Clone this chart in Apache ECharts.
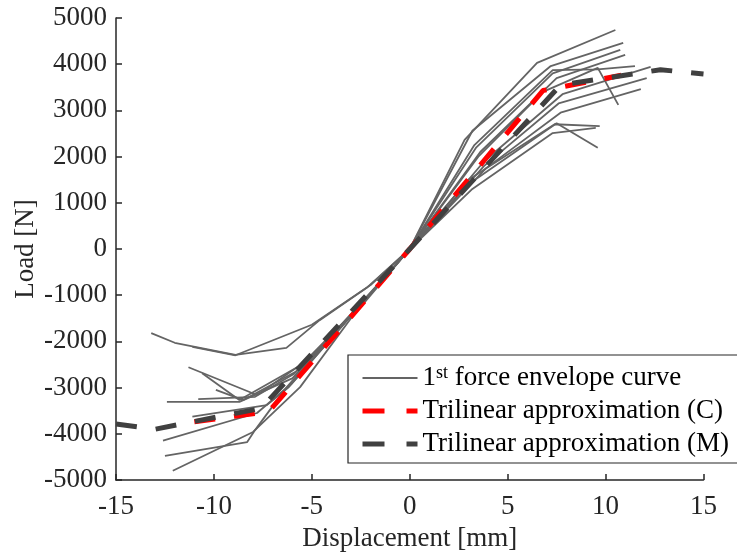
<!DOCTYPE html>
<html>
<head>
<meta charset="utf-8">
<script src="https://cdn.jsdelivr.net/npm/echarts@6/dist/echarts.min.js"></script>
<style>
  html, body { margin: 0; padding: 0; background: #fff; }
  #chart { width: 737px; height: 555px; }
</style>
</head>
<body>
<div id="chart"></div>
<script>
// 1st force envelope curves, positive side [displacement mm, load N]
const p1 = [[0, 0], [2.8, 2360], [6.5, 4030], [10.5, 4740]]
const p2 = [[0, 0], [3.2, 2560], [7.2, 3960], [10.9, 4460]]
const p3 = [[0, 0], [3.4, 2200], [7.3, 3800], [10.75, 4310]]
const p4 = [[0, 0], [3.6, 2100], [7.5, 3700], [11.0, 4200]]
const p5 = [[0, 0], [3.3, 2250], [7.3, 3870], [9.6, 3890], [11.5, 3960]]
const p6 = [[0, 0], [3.8, 1900], [7.8, 3350], [12.3, 3940]]
const p7 = [[0, 0], [3.8, 1800], [7.6, 3150], [12.1, 3700]]
const p8 = [[0, 0], [3.9, 1750], [7.7, 2950], [11.8, 3460]]
const p9 = [[0, 0], [3.5, 2000], [6.8, 3400], [9.6, 3920], [10.65, 3120]]
const p10 = [[0, 0], [3.0, 1500], [7.4, 2700], [9.7, 2660]]
const p11 = [[0, 0], [3.0, 1400], [7.5, 2720], [9.6, 2190]]
const p12 = [[0, 0], [3.2, 1300], [7.3, 2510], [9.5, 2620]]

// negative side
const n1 = [[0, 0], [-2.2, -840], [-4.6, -1540], [-6.3, -2140], [-8.9, -2290], [-12.0, -2030], [-13.2, -1820]]
const n2 = [[0, 0], [-2.0, -780], [-5.0, -1640], [-8.9, -2300], [-11.1, -2120]]
const n3 = [[0, 0], [-2.5, -1200], [-5.2, -2400], [-7.8, -3160], [-11.3, -2560]]
const n4 = [[0, 0], [-2.6, -1250], [-5.5, -2500], [-8.7, -3270], [-10.6, -2690]]
const n5 = [[0, 0], [-2.7, -1300], [-5.8, -2650], [-8.5, -3270], [-9.9, -3050]]
const n6 = [[0, 0], [-2.8, -1350], [-6.0, -2800], [-8.7, -3310], [-12.4, -3310]]
const n7 = [[0, 0], [-2.6, -1250], [-5.9, -2700], [-7.9, -3200], [-10.8, -3250]]
const n8 = [[0, 0], [-2.9, -1400], [-6.2, -3000], [-7.3, -3380], [-11.1, -3630]]
const n9 = [[0, 0], [-3.0, -1450], [-6.0, -2900], [-7.8, -3550], [-12.6, -4150]]
const n10 = [[0, 0], [-3.2, -1500], [-6.3, -3000], [-7.9, -3920], [-8.3, -4180], [-12.5, -4480]]
const n11 = [[0, 0], [-3.0, -1500], [-5.6, -2990], [-8.0, -3960], [-12.1, -4800]]

// trilinear approximations
const trilinearC = [[-11.0, -3740], [-7.2, -3520], [0, 0], [6.8, 3430], [10.8, 3760]]
const trilinearM = [[-15, -3790], [-13.0, -3900], [-7.6, -3450], [0, 0], [7.7, 3550], [12.8, 3880], [15, 3790]]

const envelopeName = '1st force envelope curve'
const nameC = 'Trilinear approximation (C)'
const nameM = 'Trilinear approximation (M)'

const FONT = 'Liberation Serif'
const AXIS_COLOR = '#262626'
const GRAY = '#646464'
const RED = '#ff0000'
const DARK = '#404040'
const DASH = [21, 19]

let curves = [p1, p2, p3, p4, p5, p6, p7, p8, p9, p10, p11, p12,
  n1, n2, n3, n4, n5, n6, n7, n8, n9, n10, n11]

let series = curves.map((d) => ({
  name: envelopeName,
  type: 'line',
  data: d,
  symbol: 'none',
  silent: true,
  lineStyle: { color: GRAY, width: 1.8 },
  itemStyle: { color: GRAY },
  z: 2
}))

series.push({
  name: nameC,
  type: 'line',
  data: trilinearC,
  symbol: 'none',
  lineStyle: { color: RED, width: 5, type: DASH },
  itemStyle: { color: RED },
  z: 3
})
series.push({
  name: nameM,
  type: 'line',
  data: trilinearM,
  symbol: 'none',
  lineStyle: { color: DARK, width: 5, type: DASH },
  itemStyle: { color: DARK },
  z: 4
})

let axisCommon = {
  type: 'value',
  nameLocation: 'middle',
  nameMoveOverlap: false,
  nameTextStyle: { fontFamily: FONT, fontSize: 27, color: AXIS_COLOR },
  axisLine: { show: true, onZero: false, lineStyle: { color: AXIS_COLOR, width: 1.5 } },
  axisTick: { show: true, inside: true, length: 6, lineStyle: { color: AXIS_COLOR, width: 1.5 } },
  axisLabel: { fontFamily: FONT, fontSize: 27, color: AXIS_COLOR, formatter: (v) => String(v) },
  splitLine: { show: false }
}

let option = {
  animation: false,
  backgroundColor: '#fff',
  grid: { left: 116, right: 33.5, top: 18, bottom: 75, containLabel: false, outerBoundsMode: 'none' },
  xAxis: Object.assign({}, axisCommon, {
    name: 'Displacement [mm]',
    nameGap: 45,
    min: -15,
    max: 15,
    interval: 5,
    axisLabel: Object.assign({}, axisCommon.axisLabel, { margin: 13 })
  }),
  yAxis: Object.assign({}, axisCommon, {
    name: 'Load [N]',
    nameGap: 77,
    min: -5000,
    max: 5000,
    interval: 1000,
    axisLabel: Object.assign({}, axisCommon.axisLabel, { margin: 9 })
  }),
  legend: {
    orient: 'vertical',
    left: 348,
    top: 355,
    padding: [9, 30, 5, 12],
    itemGap: 5,
    itemWidth: 55,
    itemHeight: 10,
    borderColor: AXIS_COLOR,
    borderWidth: 1.2,
    backgroundColor: '#fff',
    selectedMode: false,
    itemStyle: { opacity: 0 },
    data: [
      { name: envelopeName, lineStyle: { color: GRAY, width: 1.8, type: 'solid' } },
      { name: nameC, lineStyle: { color: RED, width: 5, type: [22, 22] } },
      { name: nameM, lineStyle: { color: DARK, width: 5, type: [22, 22] } }
    ],
    formatter: (name) => name === envelopeName ? '1{sup|st} force envelope curve' : name,
    textStyle: {
      fontFamily: FONT,
      fontSize: 27,
      lineHeight: 28,
      color: '#000',
      rich: {
        sup: { fontFamily: FONT, fontSize: 18, verticalAlign: 'top', lineHeight: 28, padding: [0, 0, 10, 0], color: '#000' }
      }
    }
  },
  series: series
}

let myChart = echarts.init(document.getElementById('chart'))
myChart.setOption(option)
</script>
</body>
</html>
